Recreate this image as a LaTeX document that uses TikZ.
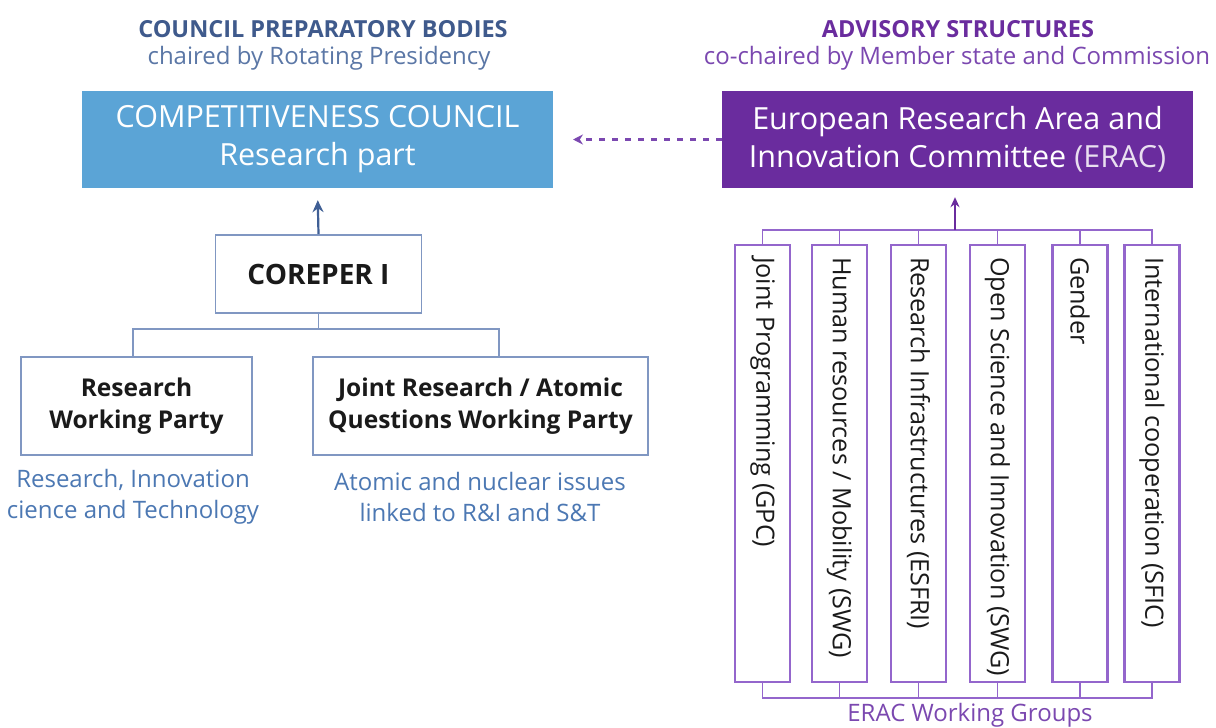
\documentclass[tikz,border=0pt]{standalone}
\usepackage{fontspec}
\setmainfont{Open Sans}
\usetikzlibrary{arrows.meta}
\definecolor{hdrblue}{HTML}{3F5A8C}
\definecolor{subblue}{HTML}{5B77A6}
\definecolor{compblue}{HTML}{5BA4D6}
\definecolor{eracpurple}{HTML}{6A2C9E}
\definecolor{hdrpurple}{HTML}{6A2C9E}
\definecolor{subpurple}{HTML}{7B48B0}
\definecolor{lineblue}{HTML}{8097C2}
\definecolor{arrblue}{HTML}{3F5F95}
\definecolor{capblue}{HTML}{4C78B3}
\definecolor{wgpurple}{HTML}{9466CC}
\definecolor{txt}{HTML}{1A1A1A}
\tikzset{
  hdr/.style={font=\fontsize{23.5}{27}\selectfont\bfseries, inner sep=0pt},
  subhdr/.style={font=\fontsize{24}{28}\selectfont, inner sep=0pt},
  bigbox/.style={minimum width=471pt, minimum height=97pt, inner sep=0pt, text=white,
     align=center, font=\fontsize{30.5}{38}\selectfont},
  wpbox/.style={draw=lineblue, line width=1.6pt, fill=white, inner sep=0pt, align=center,
     text=txt, font=\fontsize{24.5}{32}\selectfont\bfseries},
  caption/.style={text=capblue, align=center, inner sep=0pt, font=\fontsize{24}{31}\selectfont},
  wgbox/.style={draw=wgpurple, line width=2.4pt, fill=white, minimum width=55pt, minimum height=437pt, inner sep=0pt},
  vtext/.style={rotate=-90, anchor=west, inner sep=0pt, text=txt, font=\fontsize{25.2}{30}\selectfont},
  bconn/.style={draw=lineblue, line width=1.6pt},
  pconn/.style={draw=wgpurple, line width=1.8pt},
}
\begin{document}
\begin{tikzpicture}[x=1pt,y=-1pt]
\useasboundingbox (0,0) rectangle (1216,728);
\fill[white] (0,0) rectangle (1216,728);

% headers
\node[hdr, text=hdrblue] (hl1) at (323,29) {COUNCIL PREPARATORY BODIES};
\node[subhdr, text=subblue] (hl2) at (319,58) {chaired by Rotating Presidency};
\node[hdr, text=hdrpurple] (hr1) at (958,29) {ADVISORY STRUCTURES};
\node[subhdr, text=subpurple] (hr2) at (957,58) {co-chaired by Member state and Commission};

% main boxes
\node[bigbox, fill=compblue] (comp) at (317.5,139.5) {COMPETITIVENESS COUNCIL\\Research part};
\node[bigbox, fill=eracpurple] (erac) at (957.5,139.5) {European Research Area and\\Innovation Committee {\color{white!85!eracpurple}(ERAC)}};

\coordinate (dtip) at (573,139.5);
\draw[draw=subpurple, line width=3pt, dash pattern=on 6pt off 7pt, -{Stealth[length=10pt,width=10pt]}] (erac.west) -- (dtip);

% COREPER
\node[wpbox, minimum width=206pt, minimum height=78pt, font=\fontsize{28}{34}\selectfont\bfseries] (corep) at (318.5,274) {COREPER I};
\draw[draw=arrblue, line width=2.2pt, -{Stealth[length=12pt,width=11pt]}, shorten >=12pt] (corep.north) -- (comp.south);

\node[wpbox, minimum width=231pt, minimum height=98pt] (rwp) at (136.5,406) {Research\\Working Party};
\node[wpbox, minimum width=335pt, minimum height=98pt] (jrwp) at (480.5,406) {Joint Research / Atomic\\Questions Working Party};

\coordinate (lbus) at (318.5,329);
\draw[bconn] (corep.south) -- (lbus);
\draw[bconn] (133,357) -- (133,329) -- (499,329) -- (499,357);

\node[caption] (c1) at (133,497) {Research, Innovation\\cience and Technology};
\node[caption] (c2) at (480,497) {Atomic and nuclear issues\\linked to R\&I and S\&T};

% working groups
\node[wgbox] (wg1) at (762.5,463.5) {};
\node[wgbox] (wg2) at (839.5,463.5) {};
\node[wgbox] (wg3) at (918.5,463.5) {};
\node[wgbox] (wg4) at (997.5,463.5) {};
\node[wgbox] (wg5) at (1080,463.5) {};
\node[wgbox] (wg6) at (1152,463.5) {};

\node[vtext] (t1) at ([yshift=-13pt]wg1.north) {Joint Programming (GPC)};
\node[vtext] (t2) at ([yshift=-13pt]wg2.north) {Human resources / Mobility (SWG)};
\node[vtext] (t3) at ([yshift=-13pt]wg3.north) {Research Infrastructures (ESFRI)};
\node[vtext] (t4) at ([yshift=-13pt]wg4.north) {Open Science and Innovation (SWG)};
\node[vtext] (t5) at ([yshift=-13pt]wg5.north) {Gender};
\node[vtext] (t6) at ([yshift=-13pt]wg6.north) {International cooperation (SFIC)};

\coordinate (tbus) at (955,230);
\coordinate (bbus) at (955,698);
\draw[pconn] (wg1.north) -- (wg1.north |- tbus) -- (wg6.north |- tbus) -- (wg6.north);
\foreach \i in {2,3,4,5} { \draw[pconn] (wg\i.north) -- (wg\i.north |- tbus); }
\draw[pconn] (wg1.south) -- (wg1.south |- bbus) -- (wg6.south |- bbus) -- (wg6.south);
\foreach \i in {2,3,4,5} { \draw[pconn] (wg\i.south) -- (wg\i.south |- bbus); }
\draw[draw=eracpurple, line width=2pt, -{Stealth[length=10pt,width=9pt]}, shorten >=9pt] (tbus) -- (erac.south -| tbus);

\node[subhdr, text=subpurple] (ewg) at (970,715) {ERAC Working Groups};
\end{tikzpicture}
\end{document}
